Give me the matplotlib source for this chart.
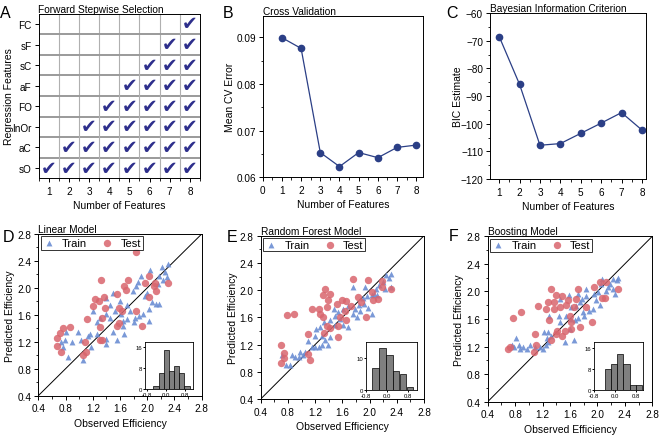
import numpy as np
import matplotlib
matplotlib.use("Agg")
import matplotlib.pyplot as plt
from matplotlib.ticker import MultipleLocator

plt.rcParams['font.family'] = ['Liberation Sans', 'DejaVu Sans']
plt.rcParams['axes.linewidth'] = 0.7
plt.rcParams['xtick.major.width'] = 0.7
plt.rcParams['ytick.major.width'] = 0.7
plt.rcParams['xtick.minor.width'] = 0.6
plt.rcParams['ytick.minor.width'] = 0.6
plt.rcParams['xtick.major.size'] = 3
plt.rcParams['ytick.major.size'] = 3
plt.rcParams['xtick.minor.size'] = 1.8
plt.rcParams['ytick.minor.size'] = 1.8
plt.rcParams['xtick.major.pad'] = 2.5
plt.rcParams['ytick.major.pad'] = 2.0

# ---------------- data ----------------
features = ["sO", "aC", "InOr", "FO", "aF", "sC", "sF", "FC"]
n_features = [1, 2, 3, 4, 5, 6, 7, 8]
cv_error = [0.0899, 0.0876, 0.0653, 0.0623, 0.0653, 0.0642, 0.0664, 0.0669]
bic = [-68.5, -85.8, -107.8, -107.2, -103.5, -99.8, -96.0, -102.3]

lin_train_x = [2.30, 2.21, 2.26, 2.18, 2.29, 2.23, 2.16, 2.04, 1.91, 1.87, 1.83, 1.79, 1.99, 1.97, 2.07,
               2.13, 2.18, 2.02, 1.94, 1.88, 1.82, 1.80, 2.03, 1.70, 1.60, 1.50, 1.39, 1.45, 1.53, 1.40,
               1.45, 1.65, 1.64, 1.66, 1.50, 1.55, 1.39, 1.40, 1.26, 1.26, 1.20, 1.16, 1.13, 1.18, 1.06,
               0.99, 0.89, 0.84, 0.79, 0.74, 0.81, 0.77, 1.02, 1.70, 1.74, 1.31, 1.61]
lin_train_y = [2.36, 2.31, 2.23, 2.18, 2.16, 2.11, 2.06, 2.26, 2.17, 2.09, 2.03, 1.96, 1.93, 1.88, 1.79,
               1.76, 1.76, 1.69, 1.61, 1.59, 1.55, 1.50, 1.51, 1.75, 1.81, 1.93, 1.85, 1.75, 1.66, 1.61,
               1.55, 1.51, 1.43, 1.32, 1.34, 1.23, 1.24, 1.17, 1.32, 1.49, 1.66, 1.32, 1.29, 1.12, 0.93,
               1.34, 1.19, 0.97, 1.22, 1.20, 1.34, 1.13, 1.23, 1.54, 1.65, 1.56, 1.61]
lin_test_x = [1.84, 1.32, 1.72, 1.66, 1.69, 1.23, 1.29, 1.36, 1.55, 1.20, 1.38, 1.12, 1.34, 1.59, 1.63,
              1.58, 1.56, 1.84, 1.92, 2.03, 2.03, 2.10, 2.11, 2.30, 1.96, 0.77, 0.87, 0.72, 0.68, 0.68,
              0.73, 1.09, 1.05, 1.10, 1.31, 1.31, 1.33, 2.13]
lin_test_y = [2.53, 2.12, 2.12, 2.03, 1.97, 1.83, 1.81, 1.86, 1.91, 1.73, 1.70, 1.54, 1.55, 1.70, 1.66,
              1.48, 1.43, 1.65, 1.43, 2.17, 1.86, 2.03, 2.08, 2.07, 2.08, 1.41, 1.42, 1.33, 1.25, 1.14,
              1.05, 1.20, 1.00, 1.05, 1.42, 1.22, 1.22, 1.96]

rf_train_x = [2.31, 2.28, 2.24, 2.20, 2.14, 2.09, 2.23, 2.06, 1.96, 1.91, 1.85, 1.79, 1.76, 1.81, 1.92,
              1.98, 2.03, 1.93, 1.75, 1.69, 1.61, 1.54, 1.49, 1.47, 1.57, 1.69, 1.61, 1.49, 1.42, 1.33,
              1.27, 1.22, 1.20, 1.30, 1.35, 1.30, 1.26, 1.20, 1.15, 1.10, 1.05, 1.02, 0.97, 0.90, 0.86,
              0.83, 0.77, 0.71, 0.98, 1.39, 1.42, 2.03, 2.11, 2.31, 1.86]
rf_train_y = [2.24, 2.18, 2.22, 2.12, 2.07, 2.01, 2.02, 1.95, 1.92, 1.88, 1.78, 1.72, 1.65, 1.61, 1.79,
              1.74, 1.65, 2.05, 2.05, 1.76, 1.73, 1.68, 1.62, 1.73, 1.58, 1.46, 1.49, 1.49, 1.56, 1.53,
              1.46, 1.43, 1.33, 1.32, 1.26, 1.20, 1.16, 1.16, 1.16, 1.25, 1.09, 1.05, 1.01, 1.01, 1.04,
              0.90, 0.90, 1.04, 1.09, 1.19, 1.31, 1.93, 1.93, 2.05, 1.70]
rf_test_x = [1.75, 1.98, 2.18, 1.35, 1.32, 1.42, 1.39, 1.38, 1.25, 1.15, 1.52, 1.60, 1.66, 1.72, 1.64,
             1.57, 1.53, 1.65, 1.31, 1.42, 1.33, 1.53, 1.83, 1.87, 1.95, 2.05, 2.13, 2.18, 2.31, 2.03,
             0.78, 0.89, 0.70, 0.74, 0.70, 0.74, 1.09, 1.10, 1.12, 1.37, 1.27]
rf_test_y = [2.16, 2.15, 2.14, 2.02, 1.93, 1.95, 1.85, 1.75, 1.73, 1.72, 1.79, 1.85, 1.84, 1.77, 1.69,
             1.61, 1.47, 1.56, 1.61, 1.44, 1.37, 1.31, 1.90, 1.83, 1.61, 1.85, 1.87, 2.05, 2.02, 1.97,
             1.64, 1.65, 1.19, 1.07, 0.93, 1.00, 1.06, 1.36, 0.98, 1.47, 1.65]

bo_train_x = [2.30, 2.28, 2.22, 2.19, 2.16, 2.23, 2.06, 2.05, 2.12, 2.01, 1.95, 1.83, 1.84, 1.78, 1.74,
              1.69, 1.98, 2.04, 1.93, 1.88, 1.80, 1.71, 1.67, 1.62, 1.54, 1.44, 1.45, 1.58, 1.72, 1.62,
              1.30, 1.28, 1.32, 1.22, 1.26, 1.28, 1.25, 1.16, 1.20, 1.09, 1.02, 0.97, 0.91, 0.85, 0.81,
              0.87, 0.78, 0.75, 1.53, 1.66, 1.60, 1.46, 1.79, 2.26]
bo_train_y = [2.20, 2.16, 2.18, 2.11, 2.06, 2.04, 2.18, 2.11, 2.00, 1.99, 1.96, 2.04, 1.94, 1.89, 1.84,
              1.79, 1.87, 1.80, 1.75, 1.71, 1.64, 1.62, 1.58, 1.60, 1.64, 1.64, 1.89, 1.95, 1.96, 1.77,
              1.64, 1.41, 1.36, 1.41, 1.33, 1.27, 1.22, 1.19, 1.16, 1.20, 1.22, 1.16, 1.19, 1.22, 1.32,
              1.16, 1.19, 1.22, 1.27, 1.29, 1.45, 1.55, 1.70, 1.97]
bo_test_x = [1.33, 1.40, 1.48, 1.72, 1.95, 2.04, 2.13, 2.30, 2.07, 2.11, 1.28, 1.37, 1.57, 1.66, 1.69,
             1.54, 1.46, 1.36, 1.14, 1.25, 0.88, 0.77, 1.30, 1.60, 1.61, 1.84, 1.92, 1.62, 1.53, 1.49,
             1.41, 1.40, 1.33, 1.09, 1.11, 1.07, 0.73, 0.70, 1.75]
bo_test_y = [2.04, 1.95, 1.93, 2.04, 2.06, 2.14, 2.14, 2.04, 1.90, 1.91, 1.84, 1.85, 1.87, 1.78, 1.89,
             1.80, 1.77, 1.75, 1.79, 1.74, 1.70, 1.62, 1.58, 1.65, 1.55, 1.77, 1.56, 1.46, 1.42, 1.36,
             1.42, 1.38, 1.30, 1.38, 1.22, 1.12, 1.19, 1.16, 1.48]

lin_hist_centers = [-0.42, -0.21, 0.0, 0.21, 0.43, 0.65, 0.87]
lin_hist_counts = [1, 6, 15, 7, 9, 6, 1]
rf_hist_centers = [-0.44, -0.17, 0.09, 0.35, 0.62, 0.89]
rf_hist_counts = [7, 13, 11, 6, 5, 1]
bo_hist_centers = [-0.27, -0.04, 0.19, 0.43, 0.66, 0.89]
bo_hist_counts = [8, 10, 14, 10, 2, 2]

# ---------------- style ----------------
NAVY = '#2b3f86'
CHECK = '#2e2f8c'
TRAIN_C = '#6c8ed3'
TEST_C = '#d9656d'
FS_TICK = 7.2
FS_LAB = 7.5
FS_TITLE = 7.3

fig = plt.figure(figsize=(6.62, 4.39), dpi=100)

def frac(l, t, r, b):
    W, H = 662.0, 439.0
    return [l / W, 1 - b / H, (r - l) / W, (b - t) / H]

def title(ax, s):
    ax.text(0.0, 1.0, s, transform=ax.transAxes, ha='left', va='bottom',
            fontsize=FS_TITLE)

def ylabel_at(ax, s, xpix):
    # xpix: figure pixel x of the label's right (baseline) side
    ax.set_ylabel(s, fontsize=FS_LAB)
    bbox = ax.get_position()
    x_ax = (xpix / 662.0 - bbox.x0) / bbox.width
    ax.yaxis.set_label_coords(x_ax, 0.5)

# ---- A ----
axA = fig.add_axes(frac(38.5, 14.7, 200, 179.3))
for k in range(1, 8):
    axA.axhline(k + 0.5, color='#9a9a9a', lw=1.4, zorder=0)
    axA.axvline(k + 0.5, color='#b0b0b0', lw=0.8, zorder=0)
for row in range(len(features)):
    for col in n_features:
        if col >= row + 1:
            axA.text(col, row + 1, '\u2714', ha='center', va='center', color=CHECK,
                     fontsize=13.5, family='DejaVu Sans')
axA.set_xlim(0.5, 8.5)
axA.set_ylim(0.5, 8.5)
axA.set_xticks(n_features)
axA.set_yticks(range(1, 9))
axA.set_yticklabels(features)
axA.xaxis.set_minor_locator(MultipleLocator(0.5))
axA.tick_params(labelsize=FS_TICK, direction='out')
axA.set_xlabel('Number of Features', fontsize=FS_LAB, labelpad=3)
ylabel_at(axA, 'Regression Features', 14)
title(axA, 'Forward Stepwise Selection')

# ---- B ----
axB = fig.add_axes(frac(262.7, 16.7, 423, 178.3))
axB.plot(n_features, cv_error, '-o', color=NAVY, lw=0.9, ms=4.5)
axB.set_xlim(0, 8.35)
axB.set_ylim(0.06, 0.0946)
axB.set_xticks(range(0, 9))
axB.xaxis.set_minor_locator(MultipleLocator(0.5))
axB.set_yticks([0.06, 0.07, 0.08, 0.09])
axB.set_yticklabels(['0.06', '0.07', '0.08', '0.09'])
axB.yaxis.set_minor_locator(MultipleLocator(0.005))
axB.tick_params(labelsize=FS_TICK, direction='out')
axB.set_xlabel('Number of Features', fontsize=FS_LAB, labelpad=3)
ylabel_at(axB, 'Mean CV Error', 235)
title(axB, 'Cross Validation')

# ---- C ----
axC = fig.add_axes(frac(490, 14, 646, 180))
axC.plot(n_features, bic, '-o', color=NAVY, lw=0.9, ms=4.5)
axC.set_xlim(0.55, 8.2)
axC.set_ylim(-120, -60)
axC.set_xticks(n_features)
axC.xaxis.set_minor_locator(MultipleLocator(0.5))
axC.set_yticks(range(-120, -59, 10))
axC.yaxis.set_minor_locator(MultipleLocator(5))
axC.tick_params(labelsize=FS_TICK, direction='out')
axC.set_xlabel('Number of Features', fontsize=FS_LAB, labelpad=3)
ylabel_at(axC, 'BIC Estimate', 463)
title(axC, 'Bayesian Information Criterion')

# ---- D/E/F ----
def scatter_panel(rect, trx, try_, tex, tey, name, inset_rect, hc, hn, hw, hxlim, hylim, hyticks, ylab_x):
    ax = fig.add_axes(rect)
    ax.plot([0.4, 2.8], [0.4, 2.8], color='black', lw=0.7, zorder=1)
    ax.scatter(trx, try_, marker='^', s=18, color=TRAIN_C, alpha=0.9, lw=0, zorder=2, label='Train')
    ax.scatter(tex, tey, marker='o', s=28, color=TEST_C, alpha=0.85, lw=0, zorder=3, label='Test')
    ax.set_xlim(0.4, 2.8)
    ax.set_ylim(0.4, 2.8)
    ticks = [0.4, 0.8, 1.2, 1.6, 2.0, 2.4, 2.8]
    ax.set_xticks(ticks)
    ax.set_yticks(ticks)
    ax.xaxis.set_minor_locator(MultipleLocator(0.2))
    ax.yaxis.set_minor_locator(MultipleLocator(0.2))
    ax.tick_params(labelsize=FS_TICK, direction='out')
    ax.set_xlabel('Observed Efficiency', fontsize=FS_LAB, labelpad=3)
    ylabel_at(ax, 'Predicted Efficiency', ylab_x)
    title(ax, name)
    leg = ax.legend(loc='upper left', ncol=2, fontsize=8, frameon=True, fancybox=False,
                    borderaxespad=0.2, handletextpad=0.6, columnspacing=1.2,
                    borderpad=0.15, handlelength=1.2, markerscale=1.0)
    leg.get_frame().set_edgecolor('black')
    leg.get_frame().set_linewidth(0.7)
    ins = fig.add_axes(inset_rect)
    ins.bar(hc, hn, width=hw, color='#7f7f7f', edgecolor='black', lw=0.5)
    ins.set_xlim(*hxlim)
    ins.set_ylim(*hylim)
    ins.set_xticks([-0.8, 0.0, 0.8])
    ins.set_xticklabels(['-0.8', '0.0', '0.8'])
    ins.set_yticks(hyticks)
    ins.tick_params(labelsize=4.3, direction='out', length=1.5, pad=0.8)
    for sp in ins.spines.values():
        sp.set_linewidth(0.6)
    return ax

axD = scatter_panel(frac(38.3, 235, 201.7, 396.7), lin_train_x, lin_train_y, lin_test_x, lin_test_y,
                    'Linear Model', frac(145, 343, 193, 390), lin_hist_centers, lin_hist_counts, 0.215,
                    (-0.88, 1.12), (0, 18), [0, 8, 16], 15)
axE = scatter_panel(frac(260.7, 236.7, 424, 400), rf_train_x, rf_train_y, rf_test_x, rf_test_y,
                    'Random Forest Model', frac(366, 343, 417, 391), rf_hist_centers, rf_hist_counts, 0.26,
                    (-0.78, 1.16), (0, 15), [0, 10], 238)
axF = scatter_panel(frac(487.7, 237.3, 652.3, 402.7), bo_train_x, bo_train_y, bo_test_x, bo_test_y,
                    'Boosting Model', frac(594, 343, 643, 391), bo_hist_centers, bo_hist_counts, 0.235,
                    (-0.78, 1.05), (0, 18.5), [0, 8, 16], 464)

# panel letters
for lab, x, y in [('A', 5, 14), ('B', 228, 14), ('C', 452, 14),
                  ('D', 8, 238), ('E', 232, 238), ('F', 454, 237)]:
    fig.text(x / 662, 1 - y / 439, lab, fontsize=11.5, ha='center', va='center')

fig.savefig('out.png', dpi=100)
